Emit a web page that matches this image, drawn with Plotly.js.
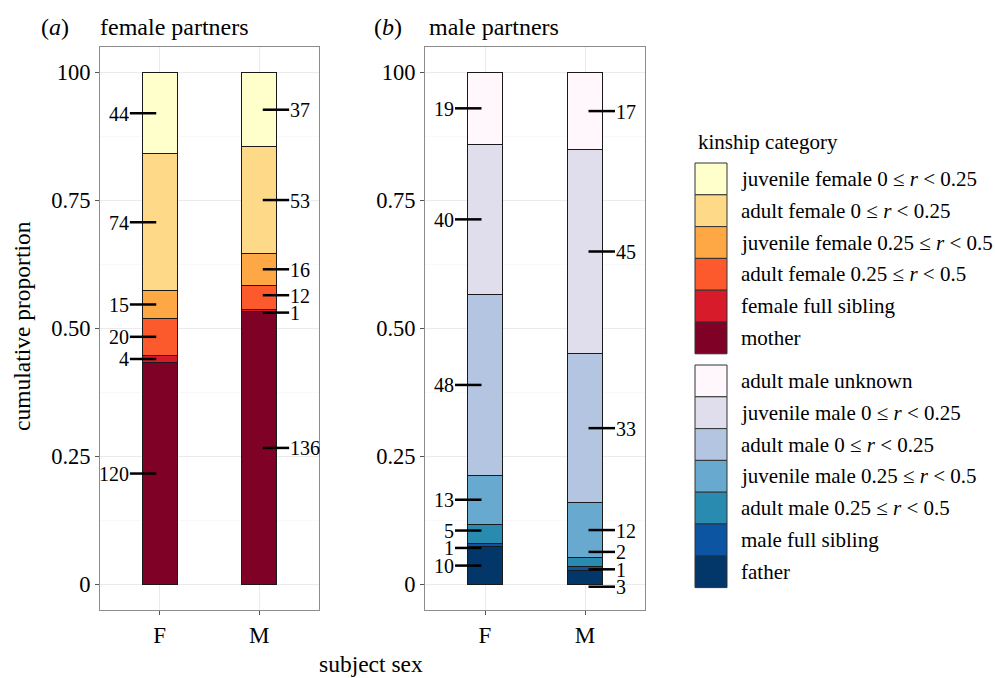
<!DOCTYPE html>
<html>
<head>
<meta charset="utf-8">
<script src="https://cdn.plot.ly/plotly-3.0.1.min.js"></script>
<style>html,body{margin:0;padding:0;background:#fff;}</style>
</head>
<body>
<div id="chart" style="width:995px;height:678px;"></div>
<script>
// ---------- data (bottom of stack first) ----------
const subjectSex = ['F', 'M'];

const femaleCategories = [
  'mother',
  'female full sibling',
  'adult female 0.25 ≤ r < 0.5',
  'juvenile female 0.25 ≤ r < 0.5',
  'adult female 0 ≤ r < 0.25',
  'juvenile female 0 ≤ r < 0.25'
];
const femaleColors = ['#7F0126', '#D81B2A', '#FC5A2D', '#FDA745', '#FED987', '#FFFFCC'];
const femaleCountsF = [120, 4, 20, 15, 74, 44];
const femaleCountsM = [136, 1, 12, 16, 53, 37];

const maleCategories = [
  'father',
  'male full sibling',
  'adult male 0.25 ≤ r < 0.5',
  'juvenile male 0.25 ≤ r < 0.5',
  'adult male 0 ≤ r < 0.25',
  'juvenile male 0 ≤ r < 0.25',
  'adult male unknown'
];
const maleColors = ['#033769', '#0B55A3', '#2A8BB0', '#68A9D0', '#B3C5E0', '#E0DDED', '#FFF7FB'];
const maleCountsF = [10, 1, 5, 13, 48, 40, 19];
const maleCountsM = [3, 1, 2, 12, 33, 45, 17];

const yTickVals = [0, 0.25, 0.5, 0.75, 1];
const yTickText = ['0', '0.25', '0.50', '0.75', '100'];
const yMinorVals = [0.125, 0.375, 0.625, 0.875];

// ---------- helpers ----------
const W = 995, H = 678;
const px = x => x / W;
const py = y => 1 - y / H;
const fmt = s => s.replace(' r ', ' <i>r</i> ');
const FONT = 'Liberation Serif, Times New Roman, serif';
const LABEL_GAP = 0.034; // minimum vertical spacing between count labels (axis units)

const traces = [];
const shapes = [];
const annotations = [];

// simple 1-D repel so that labels of thin segments do not overlap
function repel(ys) {
  const idx = ys.map((v, i) => i).sort((a, b) => ys[a] - ys[b]);
  const out = ys.slice();
  for (let it = 0; it < 300; it++) {
    let moved = false;
    for (let k = 1; k < idx.length; k++) {
      const a = idx[k - 1], b = idx[k];
      const d = out[b] - out[a];
      if (d < LABEL_GAP - 1e-6) {
        const push = (LABEL_GAP - d) / 2;
        out[a] -= push; out[b] += push; moved = true;
      }
    }
    if (!moved) break;
  }
  return out;
}

function buildPanel(cats, colors, countsF, countsM, xa, ya) {
  const totF = countsF.reduce((a, b) => a + b, 0);
  const totM = countsM.reduce((a, b) => a + b, 0);
  cats.forEach((c, i) => {
    traces.push({
      type: 'bar',
      x: [1, 2],
      y: [countsF[i] / totF, countsM[i] / totM],
      width: 0.355,
      name: c,
      xaxis: xa, yaxis: ya,
      marker: {color: colors[i], line: {color: '#1a1a1a', width: 1}},
      showlegend: false,
      hoverinfo: 'name+y'
    });
  });
  // count labels
  [[countsF, totF, 1, -1], [countsM, totM, 2, 1]].forEach(([counts, tot, xc, side]) => {
    let cum = 0;
    const mids = counts.map(v => { const m = (cum + v / 2) / tot; cum += v; return m; });
    const ys = repel(mids);
    counts.forEach((v, i) => {
      const y = ys[i];
      const x0 = xc + side * 0.035, x1 = xc + side * 0.30;
      shapes.push({type: 'line', xref: xa, yref: ya, x0: x0, x1: x1, y0: y, y1: y,
        line: {color: '#000', width: 2.5}});
      annotations.push({xref: xa, yref: ya, x: x1, y: y, text: String(v), showarrow: false,
        xanchor: side < 0 ? 'right' : 'left', yanchor: 'middle', height: 17, valign: 'middle',
        borderpad: 0, font: {size: 20, color: '#000', family: FONT}});
    });
  });
}

buildPanel(femaleCategories, femaleColors, femaleCountsF, femaleCountsM, 'x', 'y');
buildPanel(maleCategories, maleColors, maleCountsF, maleCountsM, 'x2', 'y2');

// ---------- legend (drawn manually) ----------
annotations.push({xref: 'paper', yref: 'paper', x: px(696), y: py(142), text: 'kinship category',
  showarrow: false, xanchor: 'left', yanchor: 'middle', font: {size: 21, family: FONT, color: '#000'}});
function legendGroup(cats, colors, top) {
  const pitch = 31.8;
  const order = cats.slice().reverse();
  const cols = colors.slice().reverse();
  order.forEach((c, i) => {
    const y0 = top + i * pitch, y1 = y0 + pitch;
    shapes.push({type: 'rect', xref: 'paper', yref: 'paper', x0: px(695), x1: px(727), y0: py(y1), y1: py(y0),
      fillcolor: cols[i], line: {color: '#333', width: 1}});
    annotations.push({xref: 'paper', yref: 'paper', x: px(739), y: py((y0 + y1) / 2), text: fmt(c),
      showarrow: false, xanchor: 'left', yanchor: 'middle', font: {size: 21, family: FONT, color: '#000'}});
  });
}
legendGroup(femaleCategories, femaleColors, 163);
legendGroup(maleCategories, maleColors, 365);

// ---------- titles ----------
const titleFont = {size: 24, family: FONT, color: '#000'};
[['(<i>a</i>)', 39], ['female partners', 98], ['(<i>b</i>)', 372], ['male partners', 427]].forEach(([t, x]) => {
  annotations.push({xref: 'paper', yref: 'paper', x: px(x), y: py(27), text: t, showarrow: false,
    xanchor: 'left', yanchor: 'middle', font: titleFont});
});
const axisTitleFont = {size: 23.5, family: FONT, color: '#000'};
annotations.push({xref: 'paper', yref: 'paper', x: px(22), y: py(326), text: 'cumulative proportion',
  textangle: -90, showarrow: false, xanchor: 'center', yanchor: 'middle', font: axisTitleFont});
annotations.push({xref: 'paper', yref: 'paper', x: px(371), y: py(664), text: 'subject sex',
  showarrow: false, xanchor: 'center', yanchor: 'middle', font: axisTitleFont});

// ---------- axes ----------
const xAxisBase = {
  range: [0.4, 2.6], tickvals: [1, 2], ticktext: subjectSex,
  showgrid: true, gridcolor: '#EBEBEB', gridwidth: 1, zeroline: false,
  showline: true, mirror: true, linecolor: '#8c8c8c', linewidth: 1,
  ticks: 'outside', ticklen: 4, tickcolor: '#555', tickwidth: 1,
  tickfont: {size: 23, family: FONT, color: '#000'}, fixedrange: true
};
const yAxisBase = {
  range: [-0.05, 1.05], tickvals: yTickVals, ticktext: yTickText, domain: [py(610), py(47)],
  showgrid: true, gridcolor: '#EBEBEB', gridwidth: 1, zeroline: false,
  minor: {tickvals: yMinorVals, showgrid: true, gridcolor: '#F5F5F5', gridwidth: 0.6, ticks: ''},
  showline: true, mirror: true, linecolor: '#8c8c8c', linewidth: 1,
  ticks: 'outside', ticklen: 4, tickcolor: '#555', tickwidth: 1,
  tickfont: {size: 22.5, family: FONT, color: '#000'}, fixedrange: true
};

const layout = {
  width: W, height: H,
  margin: {l: 0, r: 0, t: 0, b: 0},
  paper_bgcolor: '#fff', plot_bgcolor: '#fff',
  font: {family: FONT, color: '#000'},
  barmode: 'stack',
  showlegend: false,
  xaxis: Object.assign({}, xAxisBase, {domain: [px(100), px(319)], anchor: 'y'}),
  yaxis: Object.assign({}, yAxisBase, {anchor: 'x'}),
  xaxis2: Object.assign({}, xAxisBase, {domain: [px(425), px(645)], anchor: 'y2'}),
  yaxis2: Object.assign({}, yAxisBase, {anchor: 'x2'}),
  shapes: shapes,
  annotations: annotations
};

Plotly.newPlot('chart', traces, layout, {displayModeBar: false, staticPlot: true});
</script>
</body>
</html>
